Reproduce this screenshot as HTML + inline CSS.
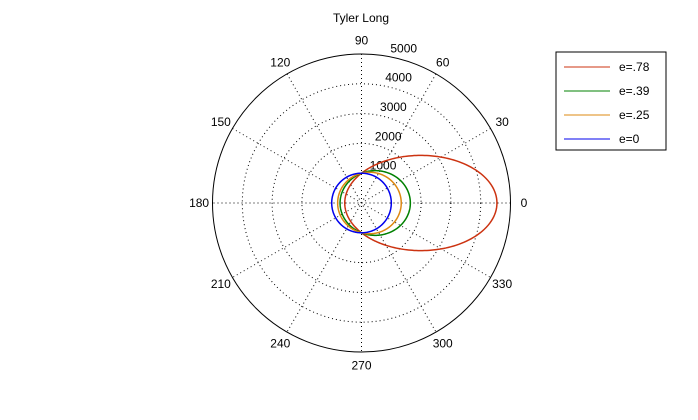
<!DOCTYPE html>
<html><head><meta charset="utf-8"><style>
body{margin:0;background:#fff}
svg{display:block}
text{font-family:"Liberation Sans",sans-serif;font-size:12px;fill:#000}
</style></head><body>
<svg id="chart" width="698" height="420" xmlns="http://www.w3.org/2000/svg">
<rect width="698" height="420" fill="#fff"/>
<text x="361" y="22" text-anchor="middle">Tyler Long</text>
<g id="grid"></g>
<g id="series"></g>
<g>
<rect x="556" y="52" width="110" height="98" fill="#fff" stroke="#000"/>
<g id="legend"></g>
</g>
</svg>
<script>
const ringValues=[1000,2000,3000,4000,5000];
const ringLabels=["1000","2000","3000","4000","5000"];
const angleValues=[0,30,60,90,120,150,180,210,240,270,300,330];
const seriesNames=["e=.78","e=.39","e=.25","e=0"];
const eccentricities=[0.78,0.39,0.25,0];
const semiLatus=[1000,1000,1000,1000];
const seriesColors=["#cc3311","#008000","#dd8811","#0000ee"];

const cx=361.5,cy=203,R=149,rMax=5000;
const NS="http://www.w3.org/2000/svg";
const rs=v=>v/rMax*R;
const px=(r,a)=>cx+rs(r)*Math.cos(a*Math.PI/180);
const py=(r,a)=>cy-rs(r)*Math.sin(a*Math.PI/180);
function mk(tag,attrs,parent){const e=document.createElementNS(NS,tag);for(const k in attrs)e.setAttribute(k,attrs[k]);parent.appendChild(e);return e;}
const grid=document.getElementById('grid');
ringValues.forEach((v,i)=>{
  const last=i===ringValues.length-1;
  const c=mk('circle',{cx:cx,cy:cy,r:rs(v),fill:'none',stroke:'#000','stroke-width':1,'stroke-dasharray':last?'none':'1,3'},grid);
  
  
  const t=mk('text',{x:px(v,80)+3,y:py(v,80)-4},grid);
  t.textContent=ringLabels[i];
  
  
});
angleValues.forEach(a=>{
  if(a<180){
    const l=mk('line',{x1:px(rMax,a),y1:py(rMax,a),x2:px(rMax,a+180),y2:py(rMax,a+180),stroke:'#000','stroke-dasharray':'1,3'},grid);
    
    
  }
  const t=mk('text',{x:px(rMax*1.09,a),y:py(rMax*1.09,a)+4,'text-anchor':'middle'},grid);
  t.textContent=String(a);
  
  
});
const sg=document.getElementById('series');
const lg=document.getElementById('legend');
seriesNames.forEach((n,i)=>{
  const e=eccentricities[i],p=semiLatus[i];
  let d='';
  for(let k=0;k<=360;k++){const r=p/(1-e*Math.cos(k*Math.PI/180));d+=(k?'L':'M')+px(r,k).toFixed(2)+','+py(r,k).toFixed(2);}
  const path=mk('path',{d:d,fill:'none',stroke:seriesColors[i],'stroke-width':1.5},sg);
  
  
  const y=67+i*24;
  const ll=mk('line',{x1:564,y1:y,x2:610,y2:y,stroke:seriesColors[i]},lg);
  
  
  const lt=mk('text',{x:619,y:y+4},lg);
  lt.textContent=n;
  
  
});
</script>
</body></html>
